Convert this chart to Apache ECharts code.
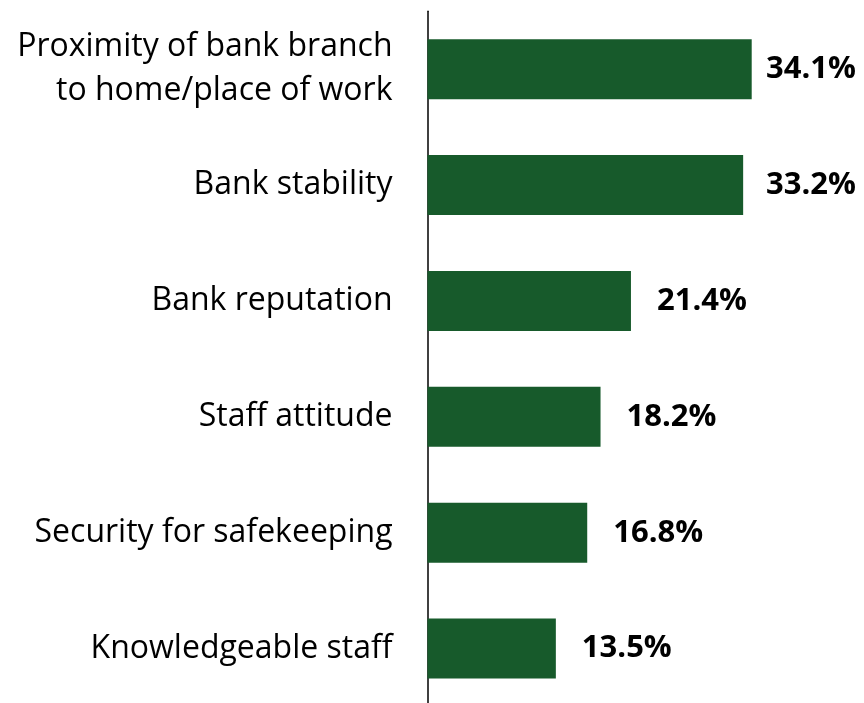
<!DOCTYPE html>
<html>
<head>
<meta charset="utf-8">
<script src="https://cdn.jsdelivr.net/npm/echarts@6/dist/echarts.min.js"></script>
<style>
  html, body { margin: 0; padding: 0; background: #ffffff; }
  #chart { width: 864px; height: 703px; }
</style>
</head>
<body>
<div id="chart"></div>
<script>
// Reasons for choosing a bank (share of respondents, %)
const categories = [
  'Proximity of bank branch\nto home/place of work',
  'Bank stability',
  'Bank reputation',
  'Staff attitude',
  'Security for safekeeping',
  'Knowledgeable staff'
];
const shares = [34.1, 33.2, 21.4, 18.2, 16.8, 13.5];

const chart = echarts.init(document.getElementById('chart'), null, { renderer: 'canvas' });

const option = {
  backgroundColor: '#ffffff',
  animation: false,
  grid: {
    left: 427.5,
    top: 11.3,
    width: 380.3,
    height: 695.2,
    containLabel: false,
    outerBoundsMode: 'none'
  },
  xAxis: {
    type: 'value',
    min: 0,
    max: 40,
    show: false,
    splitLine: { show: false }
  },
  yAxis: {
    type: 'category',
    data: categories,
    inverse: true,
    axisLine: { show: true, lineStyle: { color: '#000000', width: 1.5 } },
    axisTick: { show: false },
    axisLabel: {
      margin: 35,
      color: '#000000',
      fontFamily: '"Open Sans", "DejaVu Sans", sans-serif',
      fontSize: 32,
      lineHeight: 44,
      padding: [6, 0, 0, 0],
      align: 'right'
    }
  },
  series: [{
    type: 'bar',
    data: shares,
    barWidth: 60,
    itemStyle: { color: '#175A2B' },
    label: {
      show: true,
      position: 'right',
      distance: 26,
      color: '#000000',
      fontFamily: '"Open Sans", "DejaVu Sans", sans-serif',
      fontWeight: 'bold',
      fontSize: 31,
      padding: [3, 0, 0, 0],
      formatter: p => p.value.toFixed(1) + '%'
    }
  }],
  // keep value labels inside the canvas near the right edge
  labelLayout: function (params) {
    const r = params.labelRect;
    const overflow = r.x + r.width - 856;
    return overflow > 0 ? { dx: -overflow } : {};
  }
};

chart.setOption(option);
</script>
</body>
</html>
